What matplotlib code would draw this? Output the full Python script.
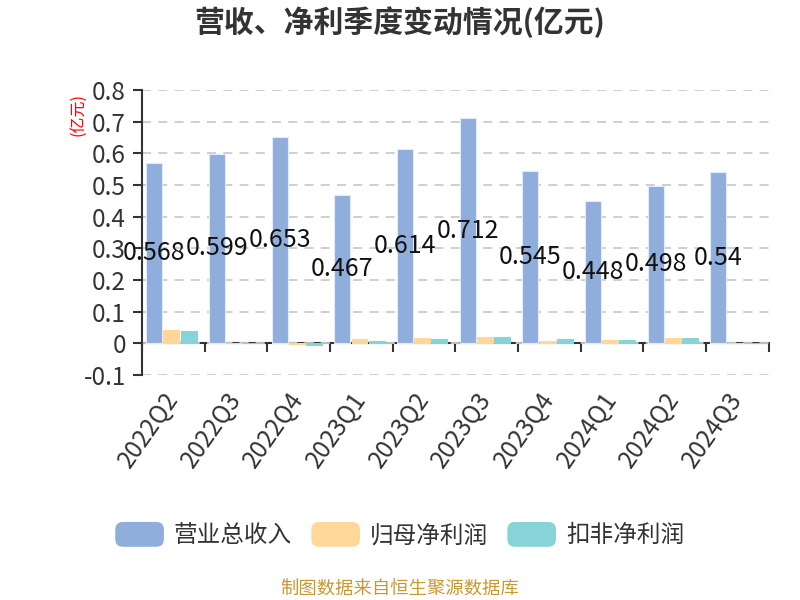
import matplotlib
matplotlib.use("Agg")
import matplotlib.pyplot as plt
from matplotlib.patches import FancyBboxPatch, Patch
from matplotlib.legend_handler import HandlerPatch

plt.rcParams['font.family'] = ['Noto Sans CJK SC', 'DejaVu Sans']

# === dane ===
kwartaly = ["2022Q2", "2022Q3", "2022Q4", "2023Q1", "2023Q2",
            "2023Q3", "2023Q4", "2024Q1", "2024Q2", "2024Q3"]
yingshou = [0.568, 0.599, 0.653, 0.467, 0.614, 0.712, 0.545, 0.448, 0.498, 0.54]
guimu = [0.041, 0.001, -0.003, 0.013, 0.017, 0.021, 0.007, 0.012, 0.017, 0.001]
koufei = [0.040, 0.001, -0.004, 0.008, 0.015, 0.019, 0.014, 0.011, 0.016, 0.001]
serie = ["营业总收入", "归母净利润", "扣非净利润"]
kolory = ["#8FAEDB", "#FFD899", "#86D4D8"]

x = list(range(len(kwartaly)))
przes = [-0.305, -0.03, 0.245]
szer = 0.255

fig = plt.figure(figsize=(8, 6), dpi=100)
ax = fig.add_axes([0.1775, 0.375, 0.7835, 0.475])

for dane, dx, kol, nazwa in zip([yingshou, guimu, koufei], przes, kolory, serie):
    ax.bar([i + dx for i in x], dane, width=szer, color=kol, label=nazwa,
           edgecolor="#e4ebf6" if kol == kolory[0] else kol, linewidth=0.8, zorder=3)

for i, v in zip(x, yingshou):
    ax.text(i + przes[0], v / 2, str(v), ha="center", va="center",
            fontsize=18, color="#111111", zorder=5)

ax.set_xlim(-0.5, len(kwartaly) - 0.5)
ax.set_ylim(-0.1, 0.8)
ax.set_yticks([-0.1, 0, 0.1, 0.2, 0.3, 0.4, 0.5, 0.6, 0.7, 0.8])
ax.set_yticklabels(["-0.1", "0", "0.1", "0.2", "0.3", "0.4", "0.5", "0.6", "0.7", "0.8"])
ax.tick_params(axis="y", labelsize=17.5, labelcolor="#333333", color="#333333",
               length=6.5, width=1.5, pad=5)
ax.yaxis.grid(True, linestyle=(0, (5, 4)), color="#cccccc", linewidth=1.3, zorder=0)
ax.set_axisbelow(True)

for s in ["top", "right", "bottom"]:
    ax.spines[s].set_visible(False)
ax.spines["left"].set_color("#333333")
ax.spines["left"].set_linewidth(1.5)

ax.set_xticks(x)
ax.set_xticklabels(kwartaly, rotation=55, ha="right", va="center",
                   rotation_mode="anchor", fontsize=17.5, color="#333333")
ax.tick_params(axis="x", length=0, pad=14)

# os zero z kreskami miedzy kategoriami
os0 = ax.secondary_xaxis(0.1 / 0.9)
os0.set_xticks([i - 0.5 for i in range(len(kwartaly) + 1)])
os0.set_xticklabels([])
os0.tick_params(length=6.5, width=1.5, color="#333333")
os0.spines["bottom"].set_color("#333333")
os0.spines["bottom"].set_linewidth(1.5)

fig.text(0.5, 1 - 22 / 600, "营收、净利季度变动情况(亿元)", ha="center", va="center",
         fontsize=21.5, fontweight="bold", color="#333333")
fig.text(78 / 800, 1 - 115 / 600, "(亿元)", rotation=90, ha="center", va="center",
         fontsize=11.5, color="red")
fig.text(0.5, 1 - 590 / 600, "制图数据来自恒生聚源数据库", ha="center", va="center",
         fontsize=13.2, color="#C9992E")


def zaokraglony(legend, orig_handle, xdescent, ydescent, width, height, fontsize):
    return FancyBboxPatch((-xdescent, -ydescent), width, height,
                          boxstyle="round,pad=0,rounding_size=5")


uchwyty = [Patch(facecolor=k, edgecolor=k, label=n) for k, n in zip(kolory, serie)]
fig.legend(handles=uchwyty, loc="center", bbox_to_anchor=(0.5, 1 - 535 / 600), ncol=3,
           frameon=False, fontsize=17, handlelength=2.0, handleheight=1.15,
           handletextpad=0.45, columnspacing=0.85, labelcolor="#333333",
           handler_map={Patch: HandlerPatch(patch_func=zaokraglony)})

plt.savefig("out.png", dpi=100)
